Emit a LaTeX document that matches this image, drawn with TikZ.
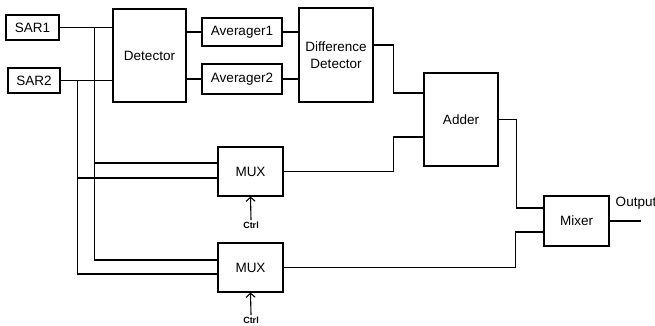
\documentclass[tikz,border=0pt]{standalone}
\usepackage{fontspec}
\setmainfont{Liberation Sans}
\usetikzlibrary{arrows.meta}

\begin{document}
\begin{tikzpicture}[x=1pt, y=-1pt, line width=1.1pt,
	blk/.style={draw, inner sep=0pt, align=center, font=\fontsize{13.5}{16.5}\selectfont},
	ctrl/.style={inner sep=1pt, font=\fontsize{9}{10}\selectfont\bfseries}]

	\useasboundingbox (0, 0) rectangle (655, 326);

	\node (sar1) at (32.5, 27.5) [blk, minimum width=53pt, minimum height=25pt] {SAR1};
	\node (sar2) at (34, 80.5) [blk, minimum width=52pt, minimum height=25pt] {SAR2};
	\node (det) at (149.5, 55.5) [blk, minimum width=73pt, minimum height=93pt] {Detector};
	\node (avg1) at (242, 32) [blk, minimum width=80pt, minimum height=28pt] {Averager1};
	\node (avg2) at (242, 79) [blk, minimum width=80pt, minimum height=30pt] {Averager2};
	\node (diff) at (336, 55) [blk, minimum width=74pt, minimum height=94pt] {Difference\\Detector};
	\node (adder) at (461, 119.5) [blk, minimum width=74pt, minimum height=93pt] {Adder};
	\node (mux1) at (250.5, 171.5) [blk, minimum width=65pt, minimum height=49pt] {MUX};
	\node (mux2) at (250.5, 267.5) [blk, minimum width=65pt, minimum height=49pt] {MUX};
	\node (mixer) at (576.5, 221) [blk, minimum width=65pt, minimum height=50pt] {Mixer};
	\node (ctrl1) at (251, 225) [ctrl] {Ctrl};
	\node (ctrl2) at (251, 320) [ctrl] {Ctrl};
	\node (outlbl) at (636, 203) [inner sep=0pt, font=\fontsize{13.5}{16.5}\selectfont] {Output};

	\draw (sar1.east) -- (det.west |- sar1.east);
	\draw (sar2.east) -- (det.west |- sar2.east);
	\path (sar1.east) -- ++(35, 0) coordinate (tapA);
	\path (sar2.east) -- ++(17, 0) coordinate (tapB);
	\draw (tapA) |- ([yshift=8.5pt]mux1.west);
	\draw (tapA) |- ([yshift=7.5pt]mux2.west);
	\draw (tapB) |- ([yshift=-6.5pt]mux1.west);
	\draw (tapB) |- ([yshift=-6.5pt]mux2.west);

	\draw (det.east |- avg1.west) -- (avg1.west);
	\draw (det.east |- avg2.west) -- (avg2.west);
	\draw (avg1.east) -- (diff.west |- avg1.east);
	\draw (avg2.east) -- (diff.west |- avg2.east);

	\draw ([yshift=10pt]diff.east) -- ++(20, 0) |- ([yshift=26.5pt]adder.west);
	\draw (mux1.east) -- ++(110, 0) |- ([yshift=-17.5pt]adder.west);
	\draw (adder.east) -- ++(18, 0) |- ([yshift=13pt]mixer.west);
	\draw (mux2.east) -- ++(232, 0) |- ([yshift=-11pt]mixer.west);
	\draw (mixer.east) -- ++(31, 0) coordinate (out);

	\draw [-{Straight Barb[length=4pt, width=9pt]}] (ctrl1.north) -- (mux1.south);
	\draw [-{Straight Barb[length=4pt, width=9pt]}] (ctrl2.north) -- (mux2.south);
\end{tikzpicture}
\end{document}
